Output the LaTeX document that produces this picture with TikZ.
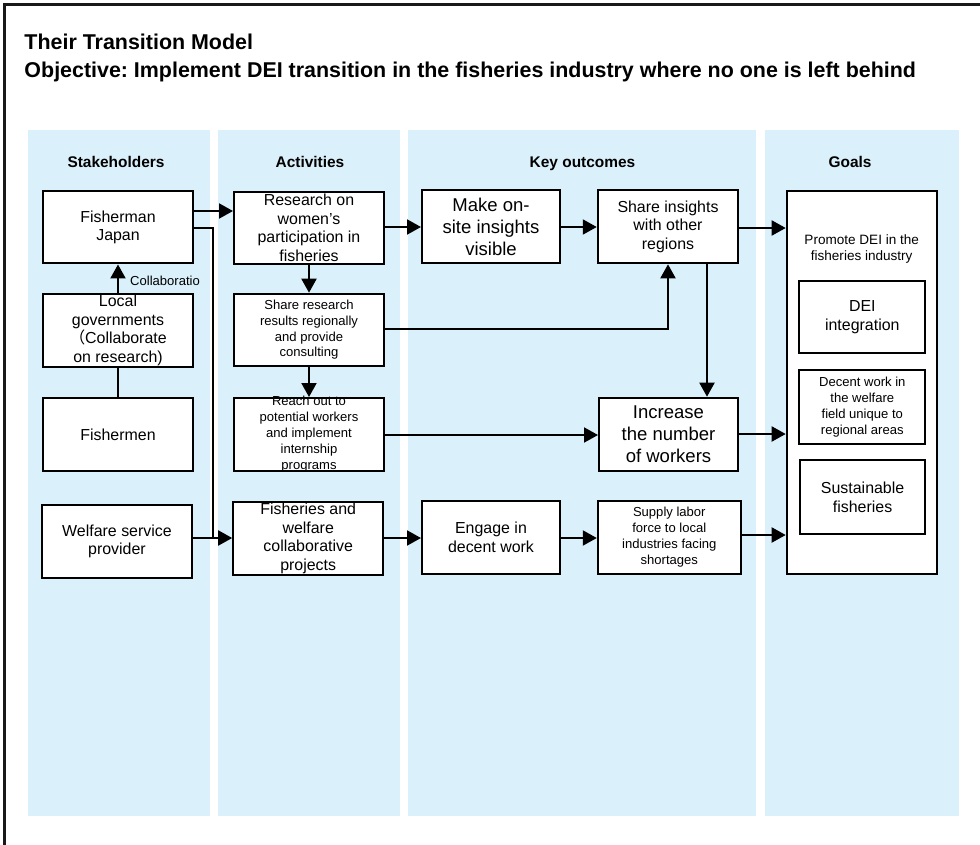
\documentclass[tikz,border=0pt]{standalone}
\usepackage{fontspec}
\setmainfont{Liberation Sans}
\newfontfamily\cjkfont{Noto Sans CJK JP}
\usetikzlibrary{arrows.meta}
\definecolor{lane}{RGB}{218,241,251}
\newcommand\fsz[2]{\fontsize{#1}{#2}\selectfont}
\frenchspacing

\begin{document}
\begin{tikzpicture}[x=1bp,y=-1bp,
  lanebg/.style={fill=lane,draw=none},
  box/.style={draw=black,line width=2bp,fill=white,inner sep=0pt,
              minimum width=150bp,minimum height=73bp},
  txt/.style={align=center,inner sep=0pt},
  big/.style={txt,font=\fsz{18.6}{21.8}},
  mid/.style={txt,font=\fsz{16}{18.6}},
  small/.style={txt,font=\fsz{13.1}{16}},
  head/.style={anchor=base,inner sep=0pt,font=\fsz{15.5}{18}\bfseries},
  title/.style={anchor=base west,inner sep=0pt,font=\fsz{21.5}{28}\bfseries},
  ln/.style={draw=black,line width=2bp},
  arr/.style={ln,-{Triangle[length=14bp,width=15bp]}}
]
\useasboundingbox (0,0) rectangle (980,845);

% outer frame (only top and left edges fall inside the page)
\draw[line width=2.2bp,black!90] (4.5,845) -- (4.5,4.5) -- (980,4.5);

% titles
\node[title] (t1) at (24.3,49.3) {Their Transition Model};
\node[title] (t2) at (24.3,77.6) {Objective: Implement DEI transition in the fisheries industry where no one is left behind};

% swim lanes
\fill[lanebg] (28,130) rectangle (210,816);
\fill[lanebg] (218,130) rectangle (400,816);
\fill[lanebg] (408,130) rectangle (756,816);
\fill[lanebg] (765,130) rectangle (959,816);

\node[head] (h1) at (116,167.3) {Stakeholders};
\node[head] (h2) at (310,167.3) {Activities};
\node[head] (h3) at (582.5,167.3) {Key outcomes};
\node[head] (h4) at (850,167.3) {Goals};

% stakeholders
\node[box,minimum height=72.5bp] (fj) at (118,227.2) {};
\node[mid] (fj-t) at (fj) {Fisherman\\Japan};
\node[box] (lg) at (118,330.5) {};
\node[mid] (lg-t) at (lg) {Local\\governments\\{\cjkfont （}Collaborate\\on research)};
\node[box] (fm) at (118,434.5) {};
\node[mid] (fm-t) at (fm) {Fishermen};
\node[box] (wsp) at (117,541.5) {};
\node[mid] (wsp-t) at (wsp) {Welfare service\\provider};

% activities
\node[box,minimum height=72.5bp] (res) at (309,227.8) {};
\node[mid] (res-t) at (res) {Research on\\women's\\participation in\\fisheries};
\node[box,minimum height=72bp] (srr) at (309,329.7) {};
\node[small] (srr-t) at (srr) {Share research\\results regionally\\and provide\\consulting};
\node[box] (ro) at (309,434.5) {};
\node[small] (ro-t) at (ro) {Reach out to\\potential workers\\and implement\\internship\\programs};
\node[box] (fw) at (308.2,538.5) {};
\node[mid] (fw-t) at (fw) {Fisheries and\\welfare\\collaborative\\projects};

% key outcomes
\node[box,minimum width=138bp] (mo) at (491,226.8) {};
\node[big] (mo-t) at (mo) {Make on-\\site insights\\visible};
\node[box,minimum width=140.5bp] (si) at (668,226.8) {};
\node[mid] (si-t) at (si) {Share insights\\with other\\regions};
\node[box,minimum width=139bp] (inc) at (668.5,434.2) {};
\node[big] (inc-t) at (inc) {Increase\\the number\\of workers};
\node[box,minimum width=138bp] (eng) at (491,537.5) {};
\node[mid] (eng-t) at (eng) {Engage in\\decent work};
\node[box,minimum width=143bp] (sup) at (669.3,537.5) {};
\node[small] (sup-t) at (sup) {Supply labor\\force to local\\industries facing\\shortages};

% goals
\node[box,minimum height=383bp] (goal) at (861.7,382.2) {};
\node[txt,font=\fsz{13.6}{16}] (goal-t) at (861.7,249) {Promote DEI in the\\fisheries industry};
\node[box,minimum width=126bp,minimum height=72.6bp] (dei) at (862.3,317) {};
\node[mid] (dei-t) at (dei) {DEI\\integration};
\node[box,minimum width=126bp,minimum height=73.4bp] (dw) at (862.3,407) {};
\node[small] (dw-t) at (dw) {Decent work in\\the welfare\\field unique to\\regional areas};
\node[box,minimum width=125.3bp,minimum height=73.7bp] (sf) at (862.6,497.2) {};
\node[mid] (sf-t) at (sf) {Sustainable\\fisheries};

% connectors
\coordinate (jn) at (213,538);
\draw[arr] (fj.east |- 0,211) -- (res.west |- 0,211);
\draw[ln] (fj.east |- 0,228) -| (jn);
\draw[arr] (wsp.east |- jn) -- (fw.west |- jn);
\draw[arr] (lg.north) -- (fj.south);
\node[anchor=base west,inner sep=0pt,font=\fsz{13.1}{16}] (collab) at (130,285) {Collaboratio};
\draw[ln] (fm.north) -- (lg.south);
\draw[arr] (res.south) -- (srr.north);
\draw[arr] (srr.south) -- (ro.north);
\draw[arr] (res.east |- 0,227) -- (mo.west |- 0,227);
\draw[arr] (mo.east |- 0,227) -- (si.west |- 0,227);
\draw[arr] (si.east |- 0,228) -- (goal.west |- 0,228);
\draw[arr] (srr.east |- 0,329) -| (si.south);
\draw[arr] (si.south -| 707,0) -- (inc.north -| 707,0);
\draw[arr] (ro.east |- 0,435) -- (inc.west |- 0,435);
\draw[arr] (inc.east |- 0,434) -- (goal.west |- 0,434);
\draw[arr] (fw.east |- 0,538) -- (eng.west |- 0,538);
\draw[arr] (eng.east |- 0,538) -- (sup.west |- 0,538);
\draw[arr] (sup.east |- 0,535) -- (goal.west |- 0,535);
\end{tikzpicture}
\end{document}
